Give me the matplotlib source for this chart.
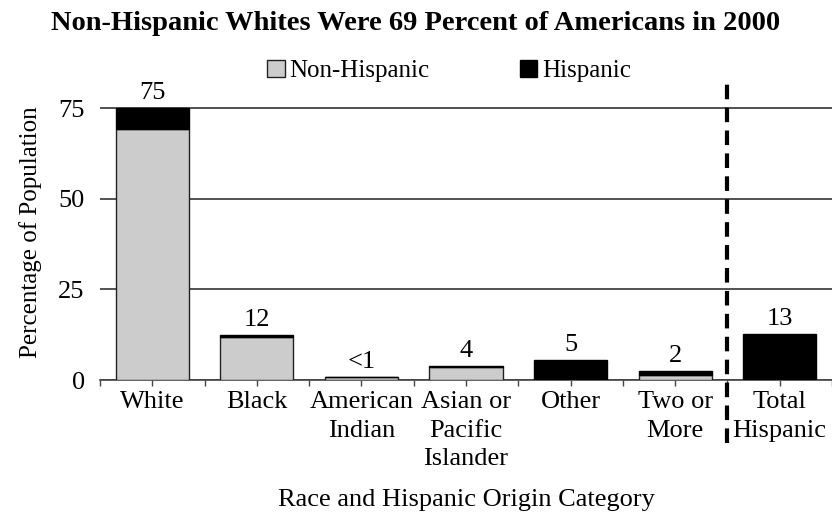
import matplotlib.pyplot as plt
import numpy as np

plt.rcParams['font.family'] = ['Liberation Serif', 'DejaVu Serif']

categories = ['White', 'Black', 'American\nIndian', 'Asian or\nPacific\nIslander',
              'Other', 'Two or\nMore', 'Total\nHispanic']
non_hispanic = [69.1, 11.9, 0.7, 3.7, 0.2, 1.5, 0.0]
hispanic = [5.9, 0.5, 0.2, 0.1, 5.2, 0.9, 12.6]

gray = '#cccccc'
dark = '#222222'

fig = plt.figure(figsize=(8.32, 5.19), dpi=100)
ax = fig.add_axes([0.1202, 0.2678, 0.8798, 0.5702])

x = np.arange(len(categories))
totals = np.array(non_hispanic) + np.array(hispanic)

ax.bar(x, non_hispanic, width=0.7, color=gray, edgecolor=dark, linewidth=1, label='Non-Hispanic', zorder=3)
ax.bar(x, hispanic, width=0.7, bottom=non_hispanic, color='black', edgecolor='black', linewidth=1,
       label='Hispanic', zorder=3)

for xi, t in zip(x, totals):
    label = '<1' if t < 1 else f"{round(t)}"
    ax.annotate(label, (xi, t), xytext=(0, 3), textcoords='offset points',
                ha='center', va='bottom', fontsize=19)

ax.set_xlim(-0.5, 6.48)
ax.set_ylim(0, 81.6)

ax.set_yticks([0, 25, 50, 75])
ax.grid(axis='y', color=dark, linewidth=1.1, zorder=0)
ax.tick_params(axis='y', length=0, labelsize=19, pad=11)

ax.set_xticks(x)
ax.set_xticklabels(categories, fontsize=19, linespacing=1.38)
ax.set_xticks(np.arange(-0.5, 7, 1), minor=True)
ax.tick_params(axis='x', which='both', direction='out', length=4, color='#444444', width=1)
ax.tick_params(axis='x', which='major', pad=4)

for side in ['top', 'right', 'left']:
    ax.spines[side].set_visible(False)
ax.spines['bottom'].set_color('#444444')
ax.spines['bottom'].set_linewidth(1.2)

# divider between race groups and total hispanic
ax.plot([5.5, 5.5], [-17.5, 81.6], color='black', linestyle=(0, (3.5, 2)), linewidth=3,
        clip_on=False, zorder=5)

ax.set_ylabel('Percentage of Population', fontsize=18, labelpad=12)
ax.set_xlabel('Race and Hispanic Origin Category', fontsize=19, labelpad=14)

fig.suptitle('Non-Hispanic Whites Were 69 Percent of Americans in 2000', fontsize=20.5,
             weight='bold', y=0.955, va='center', x=0.5)

fig.legend(loc='center left', bbox_to_anchor=(0.294, 0.863), ncol=2, frameon=False, fontsize=18,
           handlelength=0.7, handleheight=0.7, handletextpad=0.2, columnspacing=3.6)

plt.savefig('out.png', dpi=100)
